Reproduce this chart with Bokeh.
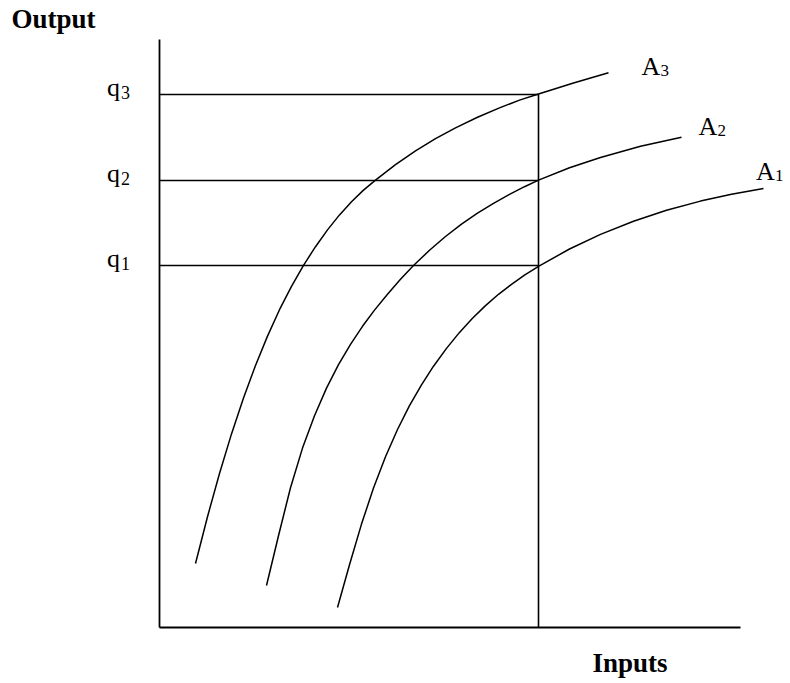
from bokeh.plotting import figure
from bokeh.models import Range1d
from bokeh.core.properties import value
from bokeh.embed import file_html
from bokeh.resources import INLINE

# ---- data (units: inputs along x, output along y; origin at the axes' corner) ----
a3_x = [36, 48, 60, 72, 84, 96, 108, 120, 132, 144, 156, 168, 180, 192, 204, 216,
        236, 256, 276, 296, 318, 340, 360, 379, 414, 449]
a3_y = [64, 110.8, 154, 193.6, 229.6, 262, 291.4, 317.8, 341.2, 362.2, 380.8, 397.6,
        412.6, 425.8, 437.4, 447.4, 462.8, 476.6, 488.8, 499.6, 510.2, 519.6, 527.4,
        533.5, 544.5, 554.7]

a2_x = [107, 119, 131, 143, 155, 167, 179, 191, 203, 215, 228, 241, 254, 270, 286,
        302, 318, 334, 350, 365, 379, 410, 441, 481, 522]
a2_y = [42, 91.8, 139.8, 179.4, 211.8, 239.4, 262.8, 283.2, 301.2, 317.4, 333.3,
        348.3, 362, 377.2, 391, 403.3, 414.3, 424.2, 433.2, 440.8, 447.4, 459.8,
        470, 481.2, 490.2]

a1_x = [178, 190, 202, 214, 226, 238, 250, 262, 274, 287, 300, 313, 326, 339, 352,
        365, 379, 410, 441, 474, 507, 541, 572, 604]
a1_y = [20, 62.8, 103.4, 139.4, 170.7, 198, 221.8, 242.7, 261.3, 279.1, 295.1,
        309.3, 321.9, 333.2, 343.2, 352.3, 361.1, 378.5, 393.1, 406.3, 417.2,
        426.4, 433.2, 439]

q_levels = [362, 447, 533]          # q1, q2, q3
q_letters = ["q", "q", "q"]
q_subs = ["1", "2", "3"]
input_level = 379                   # fixed input quantity
x_axis_end = 581
y_axis_end = 588

curve_label_x = [596.5, 539, 482]
curve_label_y = [447.7, 492.7, 553]
curve_letters = ["A", "A", "A"]
curve_subs = ["1", "2", "3"]

x_title = "Inputs"
y_title = "Output"

SERIF = value("Liberation Serif")
SHIFT = -8  # screen-pixel correction for text baseline placement

p = figure(width=790, height=683,
           x_range=Range1d(-159, 631), y_range=Range1d(-56, 627),
           output_backend="svg", toolbar_location=None,
           x_axis_location=None, y_axis_location=None,
           min_border=0, min_border_left=0, min_border_right=0,
           min_border_top=0, min_border_bottom=0)
p.grid.visible = False
p.outline_line_color = None
p.background_fill_color = "white"
p.border_fill_color = "white"

# axes
p.line([0, 0], [0, y_axis_end], line_color="black", line_width=1.8)
p.line([0, x_axis_end], [0, 0], line_color="black", line_width=1.8)

# guide lines
p.segment(x0=[0] * len(q_levels), y0=q_levels,
          x1=[input_level] * len(q_levels), y1=q_levels,
          line_color="black", line_width=1.6)
p.line([input_level, input_level], [0, max(q_levels)], line_color="black", line_width=1.6)

# curves
for xs, ys in [(a3_x, a3_y), (a2_x, a2_y), (a1_x, a1_y)]:
    p.line(xs, ys, line_color="black", line_width=1.5, line_join="round")

# q labels
q_x = [-52.5] * len(q_levels)
p.text(x=q_x, y=q_levels, text=q_letters, text_font=SERIF, text_font_size="26px",
       text_align="left", text_baseline="alphabetic", y_offset=1.4 + SHIFT, text_color="black")
p.text(x=q_x, y=q_levels, text=q_subs, text_font=SERIF, text_font_size="18px",
       text_align="left", text_baseline="alphabetic", x_offset=14, y_offset=6 + SHIFT,
       text_color="black")

# curve labels
p.text(x=curve_label_x, y=curve_label_y, text=curve_letters, text_font=SERIF, text_font_size="26px",
       text_align="left", text_baseline="alphabetic", y_offset=SHIFT, text_color="black")
p.text(x=curve_label_x, y=curve_label_y, text=curve_subs, text_font=SERIF, text_font_size="17px",
       text_align="left", text_baseline="alphabetic", x_offset=19, y_offset=3.5 + SHIFT,
       text_color="black")

# axis titles
p.text(x=[-148], y=[600.3], text=[y_title], text_font=SERIF, text_font_size="27px",
       text_font_style="bold", text_align="left", text_baseline="alphabetic",
       y_offset=SHIFT, text_color="black")
p.text(x=[433], y=[-43], text=[x_title], text_font=SERIF, text_font_size="27px",
       text_font_style="bold", text_align="left", text_baseline="alphabetic",
       y_offset=SHIFT, text_color="black")

open("out.html", "w").write(file_html(p, INLINE))
